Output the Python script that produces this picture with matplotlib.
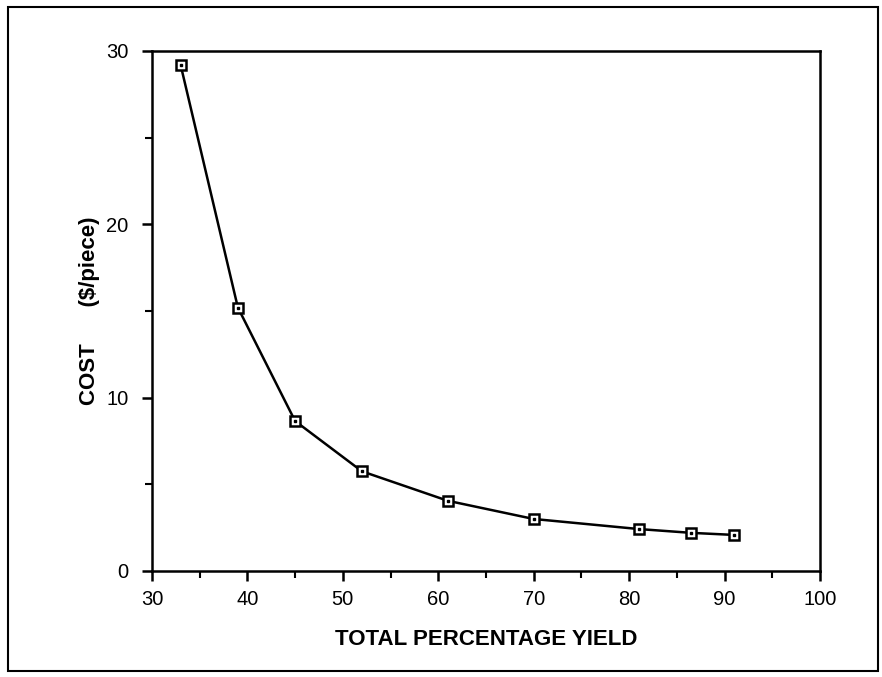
import matplotlib
matplotlib.use("Agg")
import matplotlib.pyplot as plt
import matplotlib.patches as mpatches
from matplotlib.ticker import MultipleLocator

# data
yield_pct = [33, 39, 45, 52, 61, 70, 81, 86.5, 91]
cost = [29.2, 15.2, 8.65, 5.75, 4.05, 3.0, 2.42, 2.2, 2.08]

x_ticks = [30, 40, 50, 60, 70, 80, 90, 100]
y_ticks = [0, 10, 20, 30]

plt.rcParams['font.family'] = ['Liberation Sans', 'DejaVu Sans']

fig = plt.figure(figsize=(8.82, 6.77), dpi=100)
ax = fig.add_axes([0.1723, 0.1566, 0.7574, 0.7681])

ax.plot(yield_pct, cost, color='black', linewidth=1.8, marker='s', markersize=7,
        markerfacecolor='white', markeredgecolor='black', markeredgewidth=1.8, zorder=3)
ax.plot(yield_pct, cost, linestyle='none', marker='s', markersize=1.5,
        color='black', zorder=4)

ax.set_xlim(30, 100)
ax.set_ylim(0, 30)
ax.set_xticks(x_ticks)
ax.set_yticks(y_ticks)
ax.xaxis.set_minor_locator(MultipleLocator(5))
ax.yaxis.set_minor_locator(MultipleLocator(5))
ax.tick_params(which='major', direction='out', length=7, width=1.8, labelsize=14.5)
ax.tick_params(axis='x', which='major', pad=7)
ax.tick_params(axis='y', which='major', pad=10)
ax.tick_params(which='minor', direction='out', length=5, width=1.5)
for s in ax.spines.values():
    s.set_linewidth(1.8)

ax.set_xlabel("TOTAL PERCENTAGE YIELD", fontsize=16, fontweight='bold', labelpad=14)
ax.set_ylabel("COST      ($/piece)", fontsize=16, fontweight='bold', labelpad=4)

# border round the whole figure
frame = mpatches.Rectangle((8 / 882, 6 / 677), 870 / 882, 664 / 677, transform=fig.transFigure,
                           fill=False, edgecolor='black', linewidth=1.5)
fig.patches.append(frame)

fig.savefig("out.png", dpi=100)
